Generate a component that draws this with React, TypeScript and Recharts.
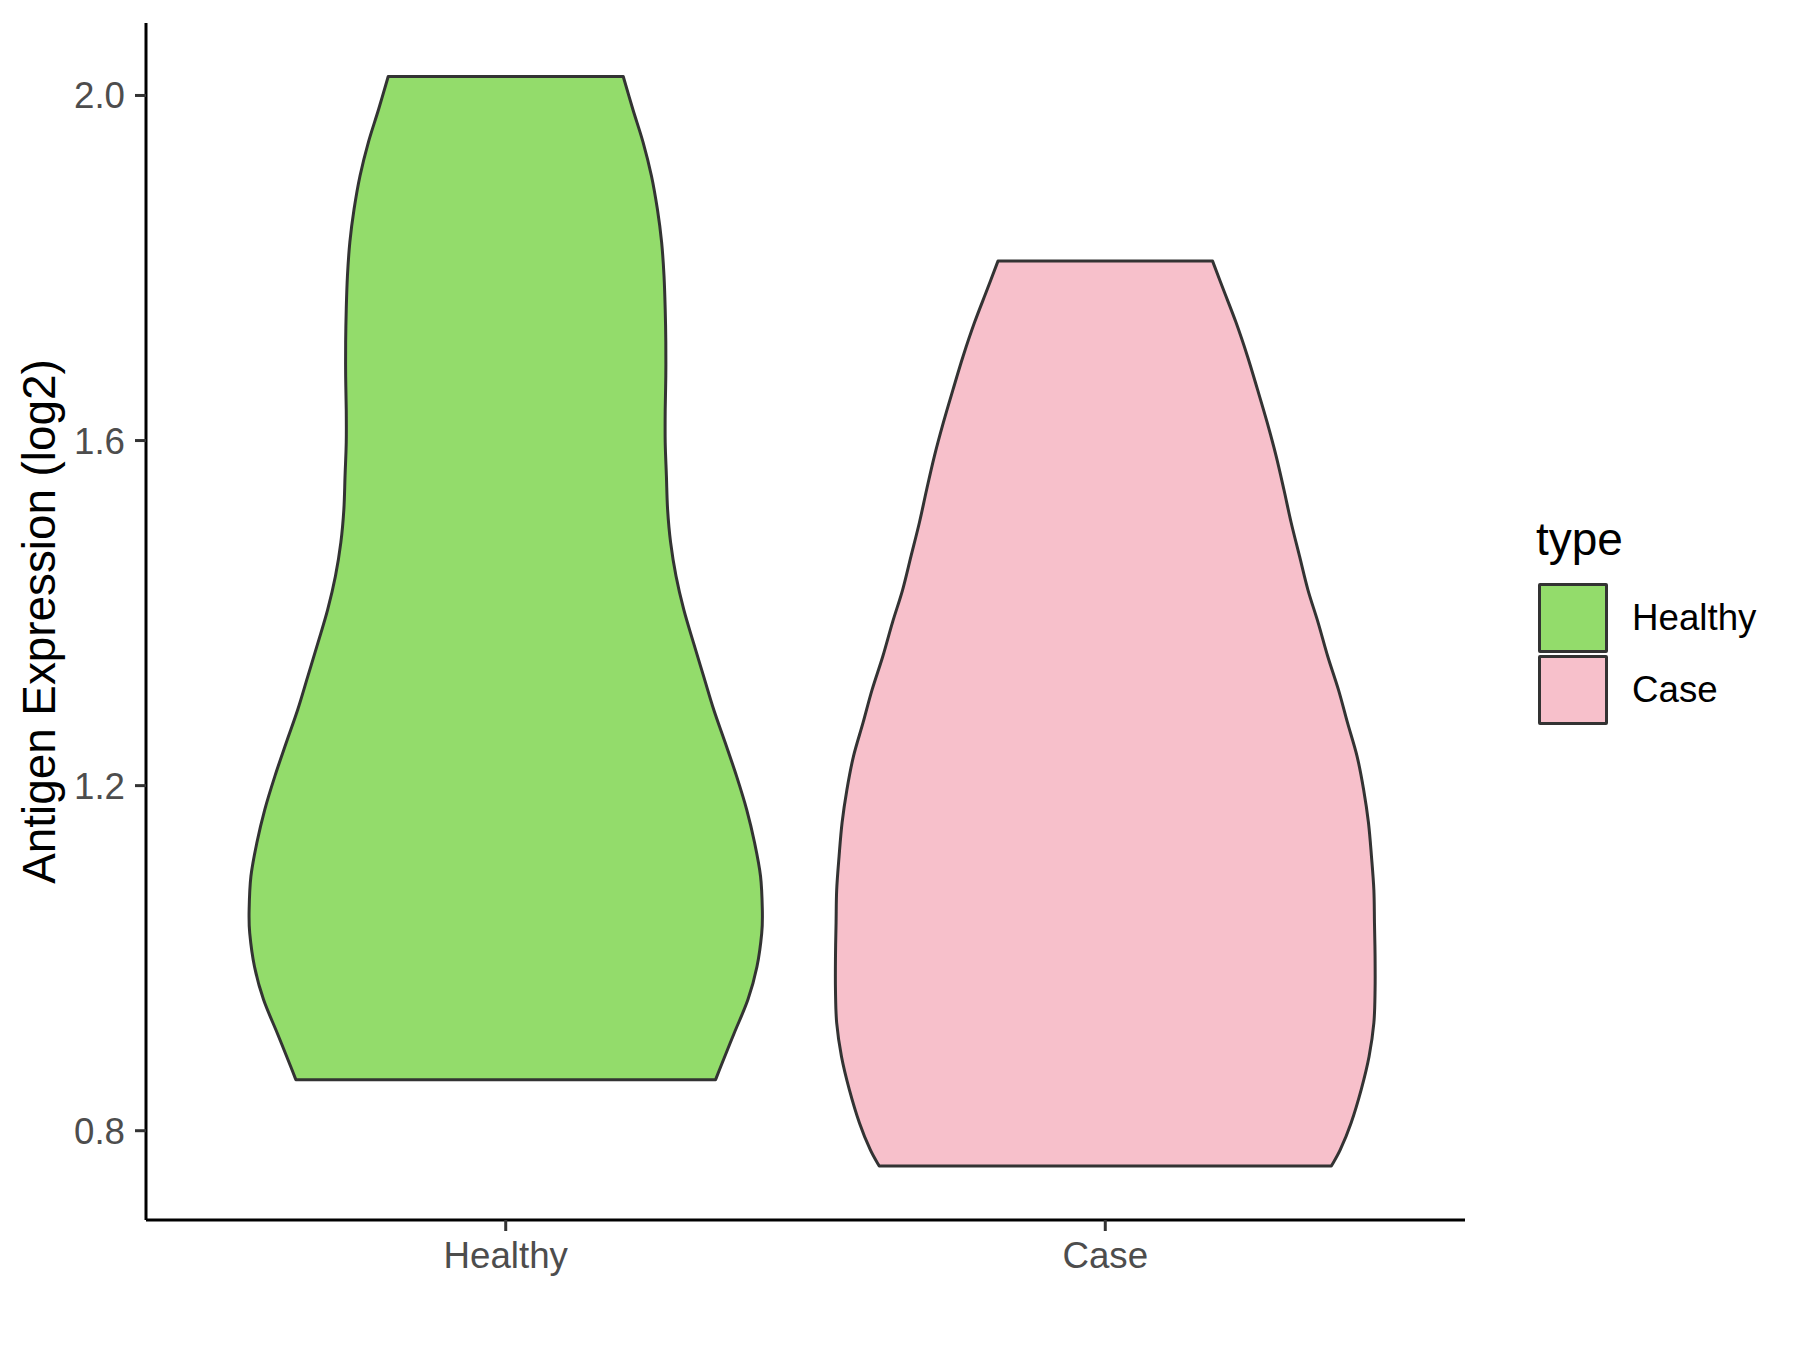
import React from "react";
import { ComposedChart, Legend, Scatter, XAxis, YAxis } from "recharts";

const groups = ["Healthy", "Case"];
const groupColors = ["#93DC6B", "#F7C0CB"];
const yTicks = [0.8, 1.2, 1.6, 2.0];

// violin outlines, read top to bottom: expression level and half-width (category units)
const healthyLevels = [
  2.022, 1.984, 1.946, 1.907, 1.868, 1.83, 1.791, 1.752, 1.714, 1.675, 1.636, 1.598, 1.559, 1.52, 1.482, 1.443,
  1.404, 1.366, 1.327, 1.288, 1.25, 1.211, 1.172, 1.134, 1.095, 1.056, 1.029, 0.99, 0.952, 0.913, 0.875, 0.859,
];
const healthyHalfWidths = [
  0.196, 0.212, 0.229, 0.243, 0.253, 0.26, 0.264, 0.266, 0.267, 0.267, 0.266, 0.266, 0.268, 0.27, 0.275, 0.284,
  0.297, 0.313, 0.33, 0.347, 0.366, 0.385, 0.402, 0.415, 0.425, 0.428, 0.427, 0.419, 0.404, 0.381, 0.359, 0.35,
];
const caseLevels = [
  1.808, 1.775, 1.737, 1.698, 1.659, 1.621, 1.582, 1.543, 1.505, 1.466, 1.427, 1.389, 1.35, 1.311, 1.273, 1.234,
  1.195, 1.157, 1.118, 1.079, 1.041, 1.002, 0.963, 0.925, 0.886, 0.848, 0.809, 0.778, 0.759,
];
const caseHalfWidths = [
  0.179, 0.197, 0.218, 0.237, 0.254, 0.27, 0.285, 0.298, 0.31, 0.324, 0.338, 0.355, 0.371, 0.389, 0.404, 0.42,
  0.431, 0.439, 0.444, 0.448, 0.449, 0.45, 0.45, 0.448, 0.44, 0.427, 0.41, 0.392, 0.377,
];

type Pt = { x: number; y: number };

const outline = (center: number, levels: number[], widths: number[]): Pt[] => {
  const left = levels.map((y, i) => ({ x: center - widths[i], y }));
  const right = levels.map((y, i) => ({ x: center + widths[i], y })).reverse();
  return [...left, ...right, left[0]];
};

const violins = [
  outline(1, healthyLevels, healthyHalfWidths),
  outline(2, caseLevels, caseHalfWidths),
];

// smooth open curve through pixel points (catmull-rom as cubic beziers)
const smoothSide = (p: Pt[]) => {
  let d = "";
  for (let i = 0; i < p.length - 1; i++) {
    const p0 = p[i - 1] || p[i];
    const p1 = p[i];
    const p2 = p[i + 1];
    const p3 = p[i + 2] || p2;
    const c1x = p1.x + (p2.x - p0.x) / 6;
    const c1y = p1.y + (p2.y - p0.y) / 6;
    const c2x = p2.x - (p3.x - p1.x) / 6;
    const c2y = p2.y - (p3.y - p1.y) / 6;
    d += ` C${c1x},${c1y} ${c2x},${c2y} ${p2.x},${p2.y}`;
  }
  return d;
};

const violinPath = (pts: Pt[]) => {
  const n = (pts.length - 1) / 2;
  const left = pts.slice(0, n);
  const right = pts.slice(n, 2 * n);
  return `M${left[0].x},${left[0].y}${smoothSide(left)} L${right[0].x},${right[0].y}${smoothSide(right)} Z`;
};

const FONT = '"Liberation Sans", Arial, Helvetica, sans-serif';

function LegendBox() {
  return (
    <div style={{ position: "relative", fontFamily: FONT }}>
      <div style={{ position: "absolute", left: 0, top: 6, fontSize: 46, lineHeight: "46px", color: "#000", whiteSpace: "nowrap" }}>
        type
      </div>
      {groups.map((g, i) => (
        <div key={g} style={{ position: "absolute", left: 2, top: 73 + i * 72, display: "flex", alignItems: "center", height: 70 }}>
          <div
            style={{
              width: 64,
              height: 64,
              border: "3px solid #333333",
              borderRadius: 2,
              background: groupColors[i],
            }}
          />
          <div style={{ marginLeft: 24, fontSize: 36.7, lineHeight: "70px", color: "#000", whiteSpace: "nowrap" }}>{g}</div>
        </div>
      ))}
    </div>
  );
}

export default function App() {
  return (
    <div style={{ position: "absolute", left: 0, top: 0, fontFamily: FONT, background: "#fff" }}>
      <ComposedChart width={1800} height={1350} margin={{ top: 23, right: 335, left: 0, bottom: 0 }}>
        <XAxis
          type="number"
          dataKey="x"
          domain={[0.4, 2.6]}
          ticks={[1, 2]}
          allowDataOverflow
          tickFormatter={(v: number) => groups[v - 1] ?? ""}
          height={130}
          axisLine={{ stroke: "#000", strokeWidth: 3 }}
          tickLine={{ stroke: "#333333", strokeWidth: 3 }}
          tickSize={11}
          tickMargin={11}
          tick={{ fill: "#4D4D4D", fontSize: 36.7 }}
        />
        <YAxis
          type="number"
          dataKey="y"
          domain={[0.6965, 2.084]}
          ticks={yTicks}
          allowDataOverflow
          tickFormatter={(v: number) => v.toFixed(1)}
          width={146}
          axisLine={{ stroke: "#000", strokeWidth: 3 }}
          tickLine={{ stroke: "#333333", strokeWidth: 3 }}
          tickSize={11}
          tickMargin={10}
          tick={{ fill: "#4D4D4D", fontSize: 36.7 }}
          label={{
            content: (props: any) => {
              const vb = props.viewBox || { x: 0, y: 23, height: 1197 };
              const cx = vb.x + 55;
              const cy = vb.y + vb.height / 2;
              return (
                <text x={cx} y={cy} transform={`rotate(-90, ${cx}, ${cy})`} textAnchor="middle" fontSize={45.8} fill="#000">
                  Antigen Expression (log2)
                </text>
              );
            },
          }}
        />
        {violins.map((pts, i) => (
          <Scatter
            key={groups[i]}
            name={groups[i]}
            data={pts}
            fill={groupColors[i]}
            line={(lp: any) => (
              <path
                d={violinPath(lp.points)}
                fill={groupColors[i]}
                stroke="#333333"
                strokeWidth={3}
                strokeLinejoin="round"
              />
            )}
            shape={() => <g />}
            legendType="none"
            isAnimationActive={false}
          />
        ))}
        <Legend
          content={() => <LegendBox />}
          wrapperStyle={{ left: 1536, top: 510, width: 0, height: 0, overflow: "visible" }}
        />
      </ComposedChart>
    </div>
  );
}
